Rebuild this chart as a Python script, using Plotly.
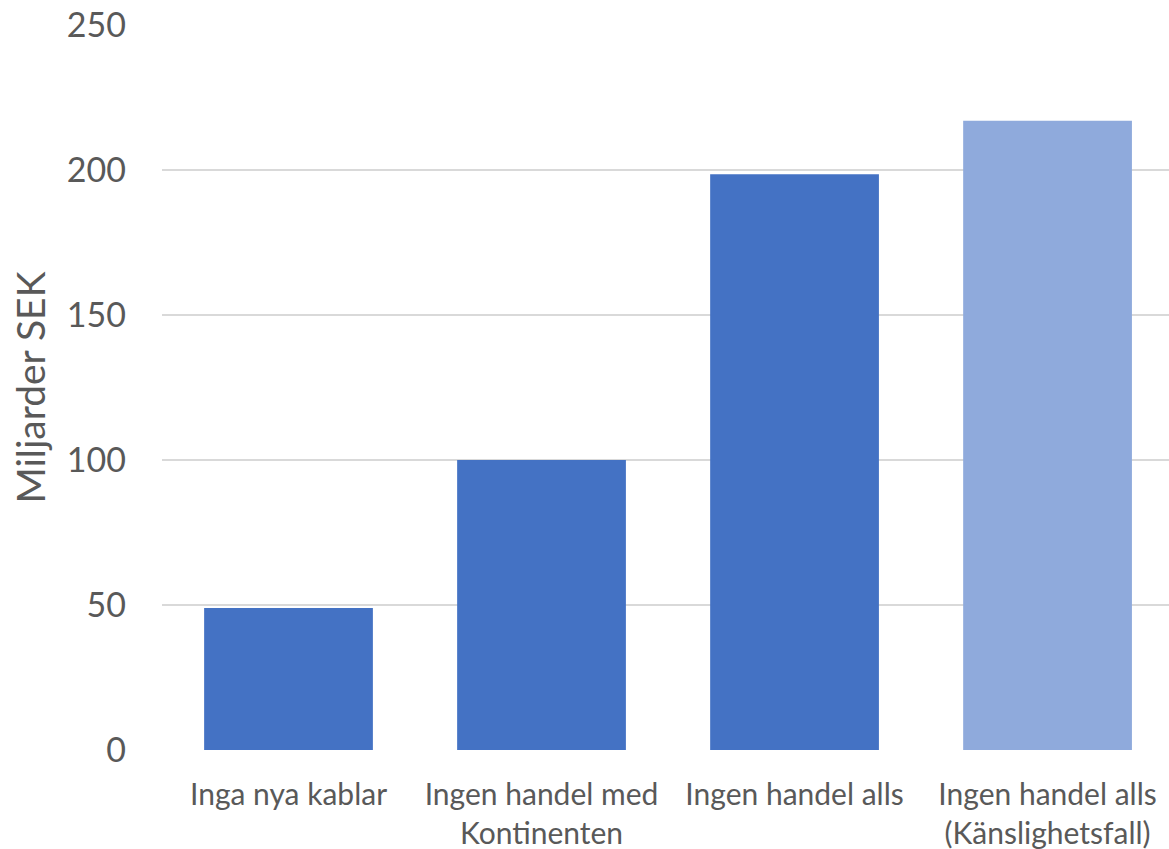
import plotly.graph_objects as go

categories = ["Inga nya kablar", "Ingen handel med<br>Kontinenten", "Ingen handel alls", "Ingen handel alls<br>(Känslighetsfall)"]
values = [49, 100, 198.5, 217]
colors = ["#4472C4", "#4472C4", "#4472C4", "#8FAADC"]
y_ticks = [0, 50, 100, 150, 200, 250]

FONT = "Lato, 'Open Sans', sans-serif"

fig = go.Figure(go.Bar(
    x=list(range(len(categories))),
    y=values,
    marker=dict(color=colors, line=dict(width=0)),
    width=0.667,
))

fig.update_layout(
    width=1169, height=849,
    margin=dict(l=162, r=0, t=25, b=99),
    paper_bgcolor="white", plot_bgcolor="white",
    showlegend=False,
    font=dict(family=FONT, color="#595959"),
    xaxis=dict(
        tickmode="array", tickvals=list(range(len(categories))), ticktext=categories,
        range=[-0.5, 3.48], showgrid=False, zeroline=False,
        showline=False, ticks="", tickfont=dict(size=30, color="#595959"),
        ticklabelstandoff=24,
    ),
    yaxis=dict(
        range=[0, 250], tickvals=y_ticks, showgrid=True, gridcolor="#D9D9D9", gridwidth=2,
        zeroline=False, showline=False, ticks="",
        tickfont=dict(size=34, color="#595959"), ticklabelstandoff=35,
        title=dict(text="Miljarder SEK", font=dict(size=39, color="#595959"), standoff=9),
    ),
)

fig.write_html("out.html")
